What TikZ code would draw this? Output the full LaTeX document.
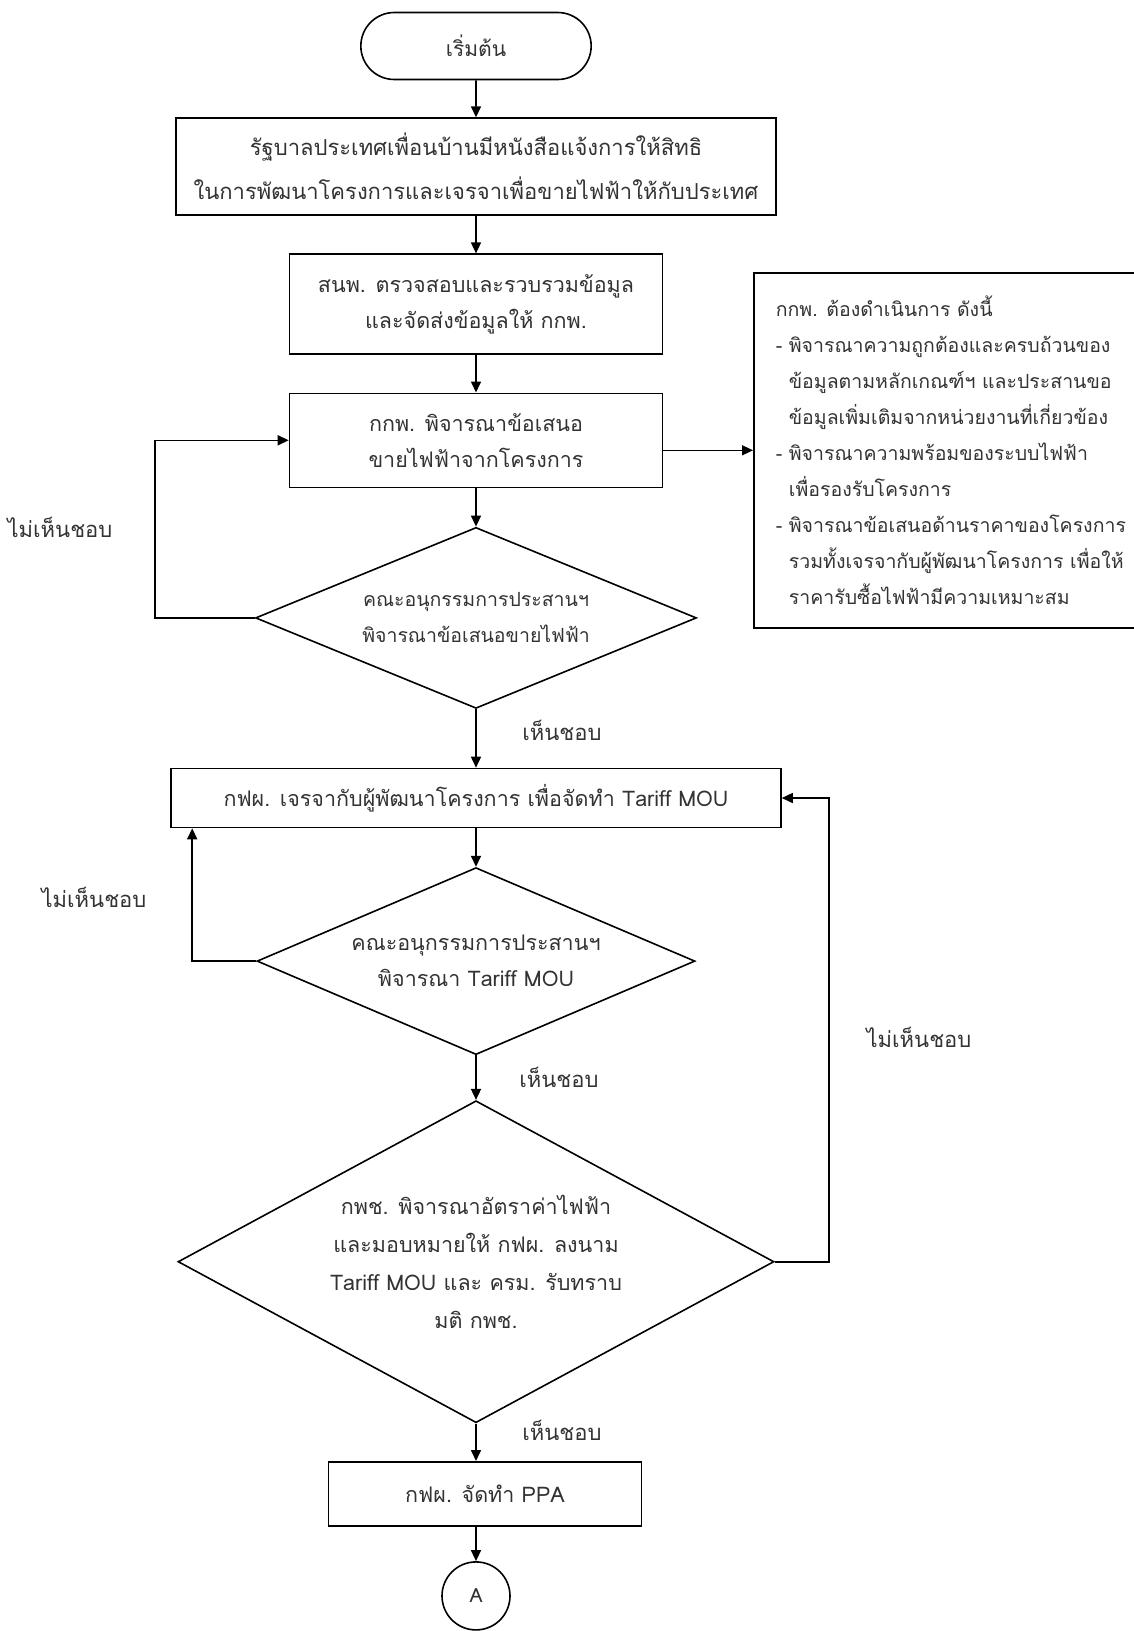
\documentclass[tikz,border=0pt]{standalone}
\usepackage{fontspec}
\setmainfont[Script=Thai]{Loma}
\usetikzlibrary{arrows.meta,positioning,shapes.geometric,shapes.misc}
\newcommand\thaitext{\fontsize{21.5pt}{36pt}\selectfont}
\newcommand\thaismall{\fontsize{19.5pt}{36pt}\selectfont}
\tikzset{
  procbox/.style={draw, line width=1.6pt, inner sep=4pt, align=center,
                  text=black!80, font=\thaitext},
  decbox/.style={draw, diamond, line width=1.6pt, inner sep=0pt, align=center,
                 text=black!80, font=\thaitext},
  termbox/.style={draw, rounded rectangle, line width=1.6pt, align=center,
                  text=black!80, font=\fontsize{21pt}{36pt}\selectfont},
  notebox/.style={draw, line width=1.6pt, inner xsep=22pt, align=left,
                  text=black!80, font=\thaismall},
  conbox/.style={draw, circle, line width=1.6pt, inner sep=0pt,
                 text=black!80, font=\thaismall},
  lbl/.style={text=black!80, font=\fontsize{22pt}{36pt}\selectfont},
  arr/.style={-{Triangle[length=11pt,width=10pt]}, line width=1.6pt}}

\begin{document}
\begin{tikzpicture}[x=1pt, y=-1pt, node distance=37.5pt]
    \useasboundingbox (0,0) rectangle (1133,1631);
    \node[termbox, minimum width=237pt, minimum height=67pt] (start) at (476,46) {เริ่มต้น};
    \node[procbox, minimum width=600pt, minimum height=97pt, below=37pt of start,
          font=\fontsize{22pt}{36pt}\selectfont] (notice)
      {รัฐบาลประเทศเพื่อนบ้านมีหนังสือแจ้งการให้สิทธิ\\[8pt]ในการพัฒนาโครงการและเจรจาเพื่อขายไฟฟ้าให้กับประเทศ};
    \node[procbox, minimum width=373pt, minimum height=100pt, below=of notice] (eppo)
      {สนพ. ตรวจสอบและรวบรวมข้อมูล\\และจัดส่งข้อมูลให้ กกพ.};
    \node[procbox, minimum width=373pt, minimum height=94pt, below=of eppo] (erc)
      {กกพ. พิจารณาข้อเสนอ\\ขายไฟฟ้าจากโครงการ};
    \node[decbox, aspect=2.44, minimum width=441pt, minimum height=181pt, below=38.5pt of erc,
          font=\thaismall] (subcom)
      {คณะอนุกรรมการประสานฯ\\พิจารณาข้อเสนอขายไฟฟ้า};
    \node[procbox, minimum width=610pt, minimum height=59pt, below=58.5pt of subcom] (egat)
      {กฟผ. เจรจากับผู้พัฒนาโครงการ เพื่อจัดทำ Tariff MOU};
    \node[decbox, aspect=2.34, minimum width=438pt, minimum height=187pt, below=38.5pt of egat] (submou)
      {คณะอนุกรรมการประสานฯ\\พิจารณา Tariff MOU};
    \node[decbox, aspect=1.85, minimum width=596pt, minimum height=322pt, below=44.5pt of submou] (nepc)
      {กพช. พิจารณาอัตราค่าไฟฟ้า\\[2pt]และมอบหมายให้ กฟผ. ลงนาม\\[2pt]Tariff MOU และ ครม. รับทราบ\\[2pt]มติ กพช.};
    \node[procbox, minimum width=313pt, minimum height=64pt, below=of nepc, xshift=9pt] (ppa)
      {กฟผ. จัดทำ PPA};
    \node[conbox, minimum size=68pt, below=34.5pt of nepc.south |- ppa.south] (conA) {A};
    \node[notebox, minimum width=379pt, minimum height=355pt, anchor=north west] (duty) at (753,272)
      {กกพ. ต้องดำเนินการ ดังนี้\\
       - พิจารณาความถูกต้องและครบถ้วนของ\\
       \hphantom{- }ข้อมูลตามหลักเกณฑ์ฯ และประสานขอ\\
       \hphantom{- }ข้อมูลเพิ่มเติมจากหน่วยงานที่เกี่ยวข้อง\\
       - พิจารณาความพร้อมของระบบไฟฟ้า\\
       \hphantom{- }เพื่อรองรับโครงการ\\
       - พิจารณาข้อเสนอด้านราคาของโครงการ\\
       \hphantom{- }รวมทั้งเจรจากับผู้พัฒนาโครงการ เพื่อให้\\
       \hphantom{- }ราคารับซื้อไฟฟ้ามีความเหมาะสม};
    \node[lbl] (no1) at (60,527) {ไม่เห็นชอบ};
    \node[lbl] (yes1) at (562,730) {เห็นชอบ};
    \node[lbl] (no2) at (94,897) {ไม่เห็นชอบ};
    \node[lbl] (yes2) at (559,1077) {เห็นชอบ};
    \node[lbl] (no3) at (919,1037) {ไม่เห็นชอบ};
    \node[lbl] (yes3) at (562,1430) {เห็นชอบ};
    \draw[arr] (start) -- (notice);
    \draw[arr] (notice) -- (eppo);
    \draw[arr] (eppo) -- (erc);
    \draw[arr] (erc) -- (subcom);
    \draw[arr] (erc.east |- duty.west) -- (duty.west);
    \draw[arr] (subcom.west) -- ++(-100,0) |- (erc.west);
    \draw[arr] (subcom) -- (egat);
    \draw[arr] (egat) -- (submou);
    \draw[arr] (submou.west) -| ([xshift=22pt]egat.south west);
    \draw[arr] (submou) -- (nepc);
    \draw[arr] (nepc.east) -- ++(54,0) |- (egat.east);
    \draw[arr] (nepc.south) -- (nepc.south |- ppa.north);
    \draw[arr] (nepc.south |- ppa.south) -- (conA);
  \end{tikzpicture}
\end{document}
